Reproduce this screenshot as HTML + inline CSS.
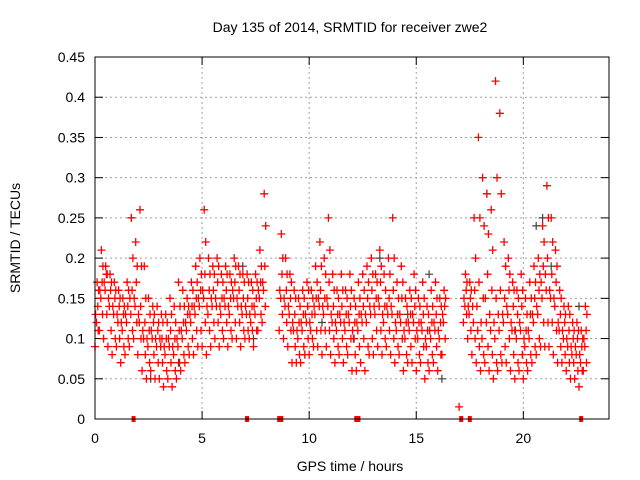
<!DOCTYPE html>
<html><head><meta charset="utf-8"><style>
html,body{margin:0;padding:0;background:#fff}
svg{display:block;font-family:"Liberation Sans",sans-serif}
</style></head><body>
<svg id="chart" width="640" height="480">
<text x="350" y="32" font-size="14" text-anchor="middle">Day 135 of 2014, SRMTID for receiver zwe2</text>
<text x="350" y="471" font-size="14" text-anchor="middle">GPS time / hours</text>
<text x="20" y="238" font-size="14" text-anchor="middle" transform="rotate(-90 20 238)">SRMTID / TECUs</text>
</svg>
<script>
const xTicks=[0,5,10,15,20];
const yTicks=[0,0.05,0.1,0.15,0.2,0.25,0.3,0.35,0.4,0.45];
const yTickLabels=["0","0.05","0.1","0.15","0.2","0.25","0.3","0.35","0.4","0.45"];
const timeStep=0.2;
const lowVals=[.09,.11,.10,.09,.08,.09,.07,.08,.09,.10,
.08,.06,.05,.06,.05,.05,.04,.05,.04,.05,
.06,.07,.08,.08,.09,.09,.08,.09,.10,.09,
.10,.09,.10,.10,.09,.10,.10,.09,.11,.12,
null,null,null,.11,.10,.09,.07,.07,.07,.08,
.08,.09,.09,.08,.09,.08,.07,.08,.07,.08,
.06,.06,.07,.06,.08,.08,.09,.08,.09,.08,
.07,.08,.06,.07,.07,.06,.07,.05,.06,.07,
.06,.08,null,null,null,.015,.12,.10,.08,.07,
.06,.07,.06,.05,.06,.07,.07,.06,.05,.06,
.05,.06,.07,.08,.09,.09,.09,.08,.07,.07,
.06,.05,.05,.04,.06];
const lowMidVals=[.11,.13,.13,.11,.10,.10,.09,.10,.11,.12,
.10,.08,.07,.08,.07,.07,.06,.07,.06,.07,
.08,.09,.10,.11,.11,.12,.11,.12,.12,.11,
.12,.11,.12,.12,.11,.11,.11,.11,.13,.14,
null,null,null,.13,.12,.11,.09,.08,.09,.10,
.10,.11,.11,.11,.11,.10,.09,.10,.09,.10,
.08,.09,.10,.09,.10,.11,.11,.10,.11,.10,
.09,.10,.08,.09,.10,.08,.09,.07,.08,.09,
.08,.10,null,null,null,null,.13,.11,.10,.09,
.08,.09,.08,.07,.08,.09,.10,.08,.07,.08,
.07,.08,.09,.10,.12,.12,.12,.11,.09,.08,
.07,.07,.06,.06,.07];
const midVals=[.12,.15,.16,.14,.13,.12,.11,.12,.13,.14,
.12,.10,.09,.10,.09,.09,.08,.09,.08,.09,
.10,.11,.12,.13,.14,.15,.13,.14,.14,.13,
.14,.13,.15,.14,.13,.13,.12,.13,.15,.16,
null,null,null,.15,.14,.13,.11,.10,.11,.12,
.11,.13,.14,.13,.14,.12,.11,.12,.11,.12,
.10,.11,.12,.12,.13,.13,.14,.12,.13,.13,
.11,.12,.10,.11,.12,.10,.11,.09,.10,.11,
.10,.12,null,null,null,null,.14,.13,.12,.11,
.10,.12,.11,.10,.11,.12,.13,.11,.10,.11,
.09,.10,.12,.13,.15,.16,.15,.14,.11,.10,
.09,.08,.08,.07,.09];
const upMidVals=[.13,.16,.17,.15,.14,.13,.12,.13,.15,.15,
.13,.11,.10,.11,.10,.10,.09,.10,.09,.10,
.11,.12,.13,.14,.15,.16,.14,.15,.15,.14,
.15,.14,.16,.15,.14,.14,.13,.14,.16,.17,
null,null,null,.16,.15,.14,.12,.11,.12,.13,
.12,.14,.15,.14,.15,.13,.12,.13,.12,.13,
.11,.12,.13,.13,.14,.14,.15,.13,.14,.14,
.12,.13,.11,.12,.13,.11,.12,.10,.11,.12,
.11,.13,null,null,null,null,.15,.14,.14,.14,
.12,.15,.13,.12,.13,.13,.14,.12,.11,.12,
.10,.11,.13,.14,.17,.18,.16,.15,.12,.11,
.10,.09,.09,.08,.10];
const mid2Vals=[.14,.17,.18,.16,.15,.14,.13,.14,.16,.17,
.14,.12,.11,.12,.11,.10,.10,.11,.10,.11,
.12,.13,.14,.15,.16,.18,.16,.16,.17,.15,
.16,.15,.17,.16,.15,.15,.14,.15,.17,.19,
null,null,null,.18,.16,.15,.13,.12,.13,.14,
.13,.15,.16,.15,.17,.14,.13,.14,.13,.14,
.12,.13,.14,.15,.16,.15,.17,.14,.15,.16,
.13,.15,.12,.13,.14,.12,.13,.11,.12,.13,
.12,.14,null,null,null,null,.16,.15,.16,.17,
.15,.18,.16,.15,.16,.15,.16,.14,.13,.14,
.11,.13,.15,.16,.19,.20,.18,.17,.13,.12,
.11,.10,.10,.09,.11];
const upperVals=[.16,.19,.18,.17,.16,.15,.14,.16,.20,.19,
.19,.15,.13,.13,.12,.12,.12,.13,.12,.14,
.14,.14,.16,.17,.18,.22,.18,.18,.19,.17,
.18,.17,.19,.18,.17,.17,.16,.17,.19,.24,
null,null,null,.20,.18,.17,.15,.14,.15,.16,
.15,.17,.19,.18,.21,.16,.15,.16,.15,.16,
.14,.15,.16,.17,.18,.17,.19,.16,.18,.20,
.15,.17,.14,.15,.16,.14,.15,.13,.14,.15,
.14,.15,null,null,null,null,.17,.16,.20,.25,
.24,.23,.21,.30,.28,.19,.18,.16,.15,.16,
.13,.15,.17,.18,.22,.25,.22,.19,.15,.13,
.13,.11,.11,.10,.13];
const highVals=[.17,.21,.19,.18,.17,.16,.15,.17,.25,.22,
.26,.19,.15,.14,.14,.13,.13,.15,.14,.17,
.16,.15,.17,.19,.20,.26,.20,.19,.20,.18,
.19,.18,.20,.19,.18,.18,.17,.18,.21,.28,
null,null,null,.23,.20,.18,.16,.15,.16,.17,
.16,.19,.22,.20,.25,.18,.16,.18,.16,.18,
.15,.17,.18,.19,.20,.18,.21,.18,.20,.25,
.17,.19,.15,.16,.18,.15,.17,.14,.16,.17,
.15,.16,null,null,null,null,.18,.17,.25,.35,
.30,.28,.26,.42,.38,.22,.20,.17,.16,.18,
.15,.17,.19,.20,.24,.29,.25,.21,.16,.14,
.14,.12,.12,.11,.14];
const darkTimes=[1.7,2.6,3.9,6.9,7.4,9.8,10.6,12.1,13.3,14.6,15.6,16.2,18.3,19.6,20.6,20.9,21.3,22.6];
const darkVals=[.25,.05,.07,.19,.10,.08,.12,.10,.20,.13,.18,.05,.28,.11,.24,.25,.19,.14];
const zeroMarkers=[1.8,7.1,8.6,8.7,12.2,12.3,17.1,17.5,22.7];

const svg=document.getElementById('chart');
const NS='http://www.w3.org/2000/svg';
const L=95,R=609,T=57,B=419;
const xS=t=>L+(t/24)*(R-L);
const yS=v=>B-(v/0.45)*(B-T);
function mk(tag,attrs){const e=document.createElementNS(NS,tag);for(const k in attrs)e.setAttribute(k,attrs[k]);svg.appendChild(e);return e;}

yTicks.forEach((v,i)=>{
  const y=yS(v);
  if(i>0&&i<yTicks.length-1){const g=mk('line',{x1:L,x2:R,y1:y,y2:y,stroke:'#a0a0a0','stroke-dasharray':'2,3','stroke-width':1});
  
  }
  const t1=mk('line',{x1:L,x2:L+8,y1:y,y2:y,stroke:'#000'});
  
  
  const t2=mk('line',{x1:R-8,x2:R,y1:y,y2:y,stroke:'#000'});
  
  
  const lb=mk('text',{x:L-10,y:y+5,'font-size':14,'text-anchor':'end'});
  lb.textContent=yTickLabels[i];
  
  
});
xTicks.forEach(v=>{
  const x=xS(v);
  if(v>0){const g=mk('line',{x1:x,x2:x,y1:T,y2:B,stroke:'#a0a0a0','stroke-dasharray':'2,3'});
  
  }
  const t1=mk('line',{x1:x,x2:x,y1:B-8,y2:B,stroke:'#000'});
  
  
  const t2=mk('line',{x1:x,x2:x,y1:T,y2:T+8,stroke:'#000'});
  
  
  const lb=mk('text',{x:x,y:B+24,'font-size':14,'text-anchor':'middle'});
  lb.textContent=String(v);
  
  
});

function plus(x,y){return `M${(x-4).toFixed(1)} ${y.toFixed(1)}h8M${x.toFixed(1)} ${(y-4).toFixed(1)}v8`;}

let dd='';
darkTimes.forEach((t,i)=>{dd+=plus(xS(t),yS(darkVals[i]));});
const dp=mk('path',{d:dd,stroke:'#404040','stroke-width':1.2,fill:'none'});



const series=[lowVals,lowMidVals,midVals,upMidVals,mid2Vals,upperVals,highVals];
const offsets=[0,0.15,0.07,0.03,0.13,0.17,0.1];
const seriesNames=['low','low-mid','mid','up-mid','mid2','upper','high'];
series.forEach((arr,k)=>{
  let d='';
  arr.forEach((v,i)=>{
    if(v===null)return;
    d+=plus(xS(i*timeStep+offsets[k]),yS(v));
  });
  const p=mk('path',{d:d,stroke:'#ff0000','stroke-width':1.3,fill:'none'});
  
  
});
zeroMarkers.forEach(t=>{
  const r=mk('rect',{x:xS(t)-2,y:B-3,width:4,height:6,fill:'#ff0000'});
  
  
});
const fr=mk('rect',{x:L,y:T,width:R-L,height:B-T,fill:'none',stroke:'#000','stroke-width':1});


</script>
</body></html>
